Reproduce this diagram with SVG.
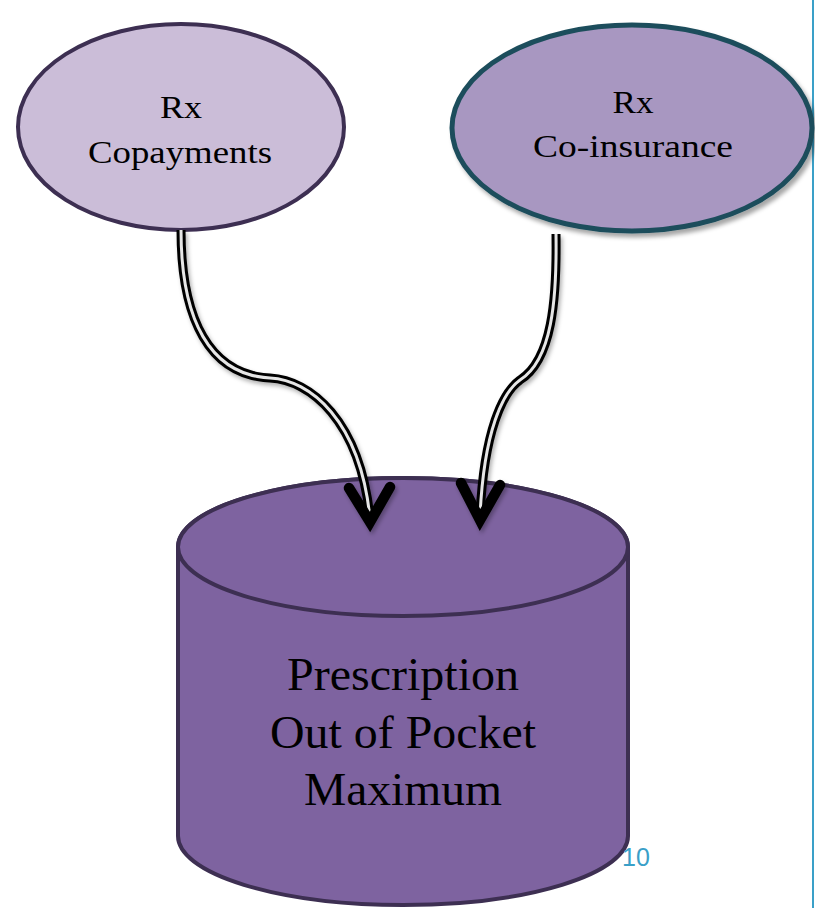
<svg xmlns="http://www.w3.org/2000/svg" width="815" height="908" viewBox="0 0 815 908">
<defs>
<filter id="sh" x="-10%" y="-10%" width="130%" height="130%"><feDropShadow dx="3" dy="4" stdDeviation="2" flood-color="#000" flood-opacity="0.35"/></filter>
<filter id="sh2" x="-20%" y="-20%" width="140%" height="140%"><feDropShadow dx="2" dy="3" stdDeviation="2" flood-color="#000" flood-opacity="0.3"/></filter>
</defs>
<style>
.lbl{font-family:"Liberation Serif","Times New Roman",serif;fill:#000;text-anchor:middle}
.outer{fill:none;stroke:#000;stroke-width:9}
.inner{fill:none;stroke:#e6e6e6;stroke-width:3}
.head{fill:none;stroke:#000;stroke-width:10.5;stroke-linecap:round;stroke-linejoin:miter}
</style>
<rect width="815" height="908" fill="#fff"/>
<line x1="813" y1="0" x2="813" y2="908" stroke="#3aa0c8" stroke-width="2"/>
<g id="cylinder">
<path d="M178,547 L178,836 A225,69 0 0 0 628,836 L628,547 A225,69 0 0 0 178,547 Z" fill="#7e63a0" stroke="#3d2f52" stroke-width="4"/>
<ellipse cx="403" cy="547" rx="225" ry="69" fill="#7e63a0" stroke="#3d2f52" stroke-width="4"/>
<text class="lbl" x="403" y="690" font-size="46" textLength="232" lengthAdjust="spacingAndGlyphs">Prescription</text>
<text class="lbl" x="403" y="748" font-size="46" textLength="266" lengthAdjust="spacingAndGlyphs">Out of Pocket</text>
<text class="lbl" x="403" y="805" font-size="46" textLength="198" lengthAdjust="spacingAndGlyphs">Maximum</text>
</g>
<g id="copay">
<ellipse cx="181" cy="127" rx="163" ry="103" fill="#cbbdd8" stroke="#3d2f52" stroke-width="4"/>
<text class="lbl" x="181" y="118" font-size="32" textLength="42" lengthAdjust="spacingAndGlyphs">Rx</text>
<text class="lbl" x="180" y="163" font-size="32" textLength="184" lengthAdjust="spacingAndGlyphs">Copayments</text>
</g>
<g id="coins">
<ellipse cx="632" cy="128" rx="180" ry="103" fill="#a897c1" stroke="#1e4d5c" stroke-width="5" filter="url(#sh)"/>
<text class="lbl" x="633" y="113" font-size="32" textLength="41" lengthAdjust="spacingAndGlyphs">Rx</text>
<text class="lbl" x="633" y="157" font-size="32" textLength="200" lengthAdjust="spacingAndGlyphs">Co-insurance</text>
</g>
<g id="connectors" filter="url(#sh2)">
<path class="outer" d="M181,230 C181,320 210,375 270,378 C310,380 360,420 370,518"/>
<path class="inner" d="M181,230 C181,320 210,375 270,378 C310,380 360,420 370,518"/>
<polyline class="head" points="349,488 370,522 390,487"/>
<path class="outer" d="M556,234 C557,300 552,360 520,380 C503,392 484,430 480,516"/>
<path class="inner" d="M556,234 C557,300 552,360 520,380 C503,392 484,430 480,516"/>
<polyline class="head" points="461,483 480,520 500,485"/>
</g>
<text x="622" y="866" font-family="Liberation Sans, Arial, sans-serif" font-size="25" fill="#3aa0c8">10</text>
</svg>
